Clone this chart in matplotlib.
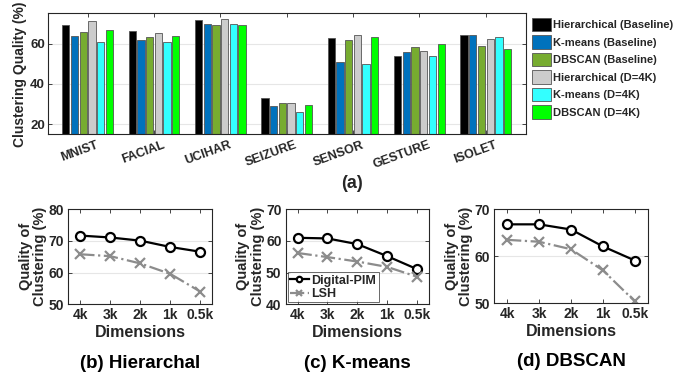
import numpy as np
import matplotlib
matplotlib.use("Agg")
import matplotlib.pyplot as plt
import matplotlib.transforms as mtransforms

plt.rcParams['font.family'] = ['Liberation Sans', 'DejaVu Sans']
plt.rcParams['font.weight'] = 'bold'
plt.rcParams['axes.labelweight'] = 'bold'
TXT = "#262626"

# ---------- data (a) ----------
datasets = ["MNIST", "FACIAL", "UCIHAR", "SEIZURE", "SENSOR", "GESTURE", "ISOLET"]
series_names = ["Hierarchical (Baseline)", "K-means (Baseline)", "DBSCAN (Baseline)",
                "Hierarchical (D=4K)", "K-means (D=4K)", "DBSCAN (D=4K)"]
hier_base = [69.1, 66.1, 71.7, 33.2, 63.0, 54.0, 64.0]
kmeans_base = [63.6, 61.8, 69.8, 28.9, 50.7, 56.0, 64.1]
dbscan_base = [65.5, 63.1, 69.1, 30.7, 62.0, 58.2, 59.0]
hier_4k = [71.4, 65.1, 72.4, 30.7, 64.1, 56.5, 62.2]
kmeans_4k = [61.0, 61.0, 69.9, 26.3, 50.1, 53.7, 63.1]
dbscan_4k = [66.8, 63.5, 69.4, 29.7, 63.1, 59.7, 57.5]
bar_colors = ["#000000", "#0072BD", "#77AC30", "#CCCCCC", "#33FFFF", "#00FF00"]

# ---------- data (b)-(d) ----------
dims = ["4k", "3k", "2k", "1k", "0.5k"]
hier_pim = [71.7, 71.1, 70.1, 68.1, 66.6]
hier_lsh = [65.8, 65.2, 62.9, 59.6, 54.0]
km_pim = [61.0, 60.8, 59.0, 55.2, 51.1]
km_lsh = [56.2, 54.9, 53.5, 51.8, 48.7]
db_pim = [66.8, 66.8, 65.7, 62.1, 59.1]
db_lsh = [63.5, 63.1, 61.5, 57.0, 50.4]

W, H = 694, 376
fig = plt.figure(figsize=(W / 100, H / 100), dpi=100)


def px_axes(left, top, right, bottom):
    return fig.add_axes([left / W, 1 - bottom / H, (right - left) / W, (bottom - top) / H])


def style(ax):
    for s in ax.spines.values():
        s.set_color("#262626")
        s.set_linewidth(0.8)
    ax.tick_params(direction="in", top=True, right=True, colors="#262626",
                   labelcolor=TXT, length=3, width=0.6)
    ax.grid(axis="y", color="#e6e6e6", linewidth=0.8)
    ax.set_axisbelow(True)


def bold_ticks(ax):
    for lab in ax.get_xticklabels() + ax.get_yticklabels():
        lab.set_fontweight("bold")


# ---------- (a) bars ----------
ax = px_axes(47.7, 13.3, 525.7, 134.3)
style(ax)
all_series = [hier_base, kmeans_base, dbscan_base, hier_4k, kmeans_4k, dbscan_4k]
x = np.arange(1, len(datasets) + 1)
pitch, bw = 0.131, 0.11
for i, (vals, c, nm) in enumerate(zip(all_series, bar_colors, series_names)):
    ax.bar(x + (i - 2.5) * pitch, vals, width=bw, color=c, edgecolor="#555555",
           linewidth=0.6, label=nm)
ax.set_xlim(0.4, 7.6)
ax.set_ylim(15, 75)
ax.set_yticks([20, 40, 60])
ax.tick_params(axis="y", labelsize=9.5, pad=2)
ax.set_xticks(x)
ax.set_xticklabels(datasets, rotation=20, ha="right", rotation_mode="anchor",
                   fontsize=9, fontweight="bold")
off = mtransforms.ScaledTranslation(6 / 72, 0, fig.dpi_scale_trans)
for lab in ax.get_xticklabels():
    lab.set_transform(lab.get_transform() + off)
bold_ticks(ax)
ax.set_ylabel("Clustering Quality (%)", fontsize=10, color=TXT, labelpad=2,
              fontweight="bold")
ax.legend(loc="upper left", bbox_to_anchor=(1.0, 1.02), frameon=False,
          prop={"size": 8, "weight": "bold"},
          handlelength=1.7, handleheight=1.5, handletextpad=0.15, labelspacing=0.36,
          borderaxespad=0.2, labelcolor=TXT)
fig.text(352 / W, 1 - 184 / H, "(a)", ha="center", va="center", fontsize=13,
         color=TXT, fontweight="bold")

# ---------- (b)-(d) lines ----------
panels = [
    ((68.3, 209.3, 212.3, 304.3), hier_pim, hier_lsh, (50, 80), [50, 60, 70, 80], "(b) Hierarchal", False),
    ((285.7, 209.3, 429.0, 304.3), km_pim, km_lsh, (40, 70), [40, 50, 60, 70], "(c) K-means", True),
    ((494.3, 209.3, 647.7, 303.3), db_pim, db_lsh, (50, 70), [50, 60, 70], "(d) DBSCAN", False),
]
xi = np.arange(1, len(dims) + 1)
for (l, t, r, b), pim, lsh, ylim, yt, title, show_leg in panels:
    a = px_axes(l, t, r, b)
    style(a)
    a.plot(xi, pim, "-o", color="black", linewidth=1.6, markersize=6.5,
           markerfacecolor="white", markeredgewidth=1.6, label="Digital-PIM")
    a.plot(xi, lsh, "-.x", color="#8c8c8c", linewidth=1.6, markersize=7,
           markeredgewidth=1.6, label="LSH")
    a.set_xlim(0.6, 5.4)
    a.set_ylim(*ylim)
    a.set_yticks(yt)
    a.set_xticks(xi)
    a.set_xticklabels(dims)
    a.tick_params(labelsize=10, pad=3)
    bold_ticks(a)
    a.set_xlabel("Dimensions", fontsize=11.5, color=TXT, labelpad=2, fontweight="bold")
    a.set_ylabel("Quality of\nClustering (%)", fontsize=10.5, color=TXT, labelpad=1,
                 linespacing=1.05, fontweight="bold")
    a.text(0.5, -0.62, title, transform=a.transAxes, ha="center", va="center",
           fontsize=13.5, color="black", fontweight="bold")
    if show_leg:
        leg = a.legend(loc="lower left", prop={"size": 9, "weight": "bold"},
                       frameon=True, fancybox=False,
                       edgecolor="#262626", borderpad=0.2, handlelength=1.5,
                       handletextpad=0.2, labelspacing=0.1, borderaxespad=0.15,
                       labelcolor=TXT, markerscale=0.6)
        leg.get_frame().set_linewidth(0.6)

fig.savefig("out.png", dpi=100)
